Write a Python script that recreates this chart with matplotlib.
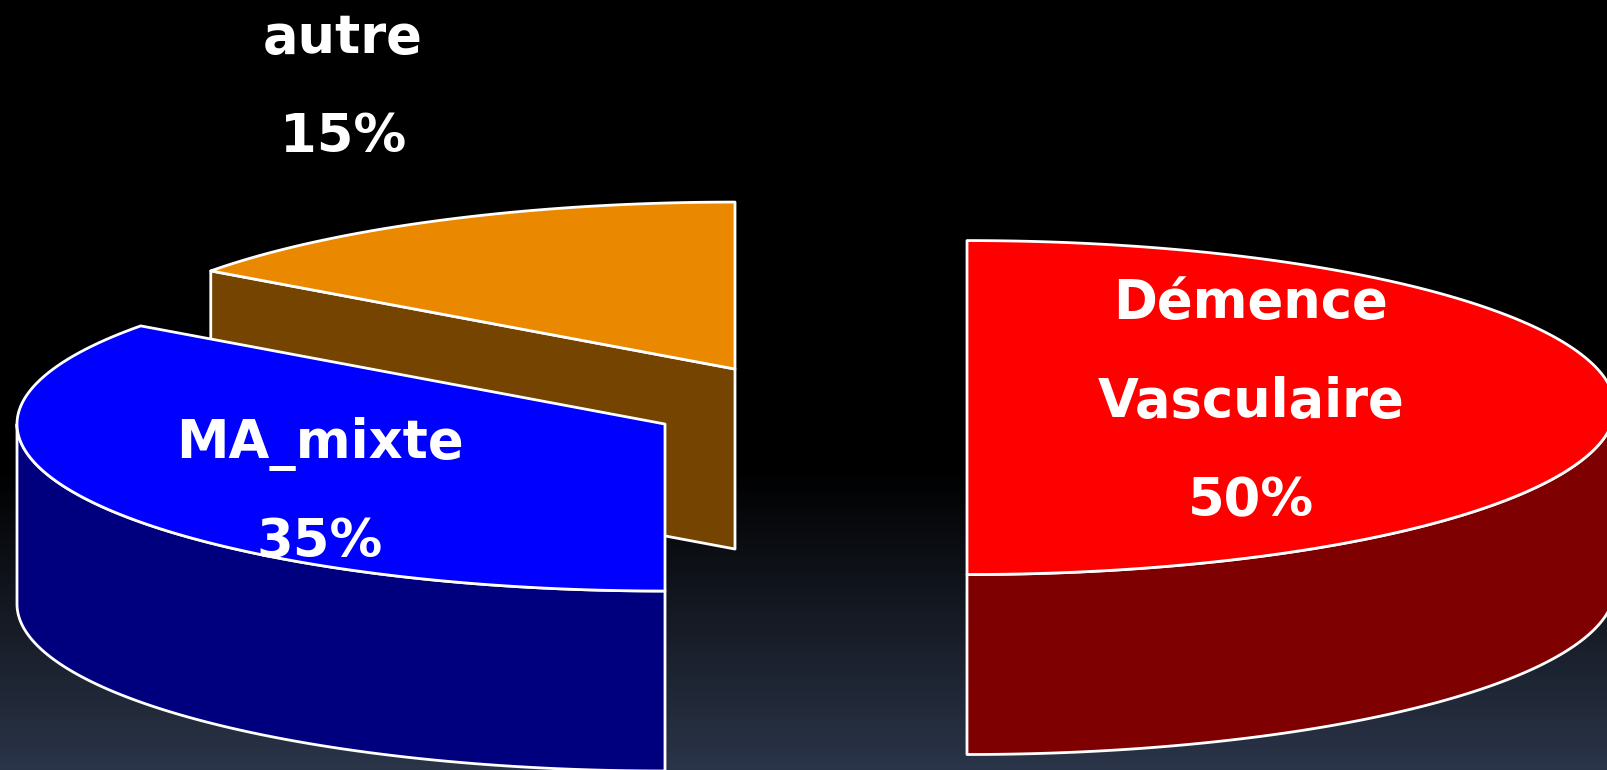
import numpy as np
import matplotlib
matplotlib.use('Agg')
import matplotlib.pyplot as plt
from matplotlib.patches import Polygon

# data (clockwise from 12 o'clock, like the original spreadsheet pie)
categories = ['Démence\nVasculaire', 'MA_mixte', 'autre']
values = [50, 35, 15]

# style
top_colors = ['#ff0000', '#0000ff', '#ea8800']
side_colors = ['#7f0000', '#00007f', '#744400']
W, H = 1608, 771
A, B, DEPTH = 648, 167, 180          # ellipse radii and thickness in px
base = (790, 408)
offsets = [(177, 0.5), (-125, 17), (-55, -38)]   # explode, px
label_pos = [(1251, 318), (320, 458), (343, 53)]  # first baseline of each label
line_step = 99

fig = plt.figure(figsize=(W / 100, H / 100 - 0.001), dpi=100)
ax = fig.add_axes([0, 0, 1, 1])
ax.set_xlim(0, W)
ax.set_ylim(H, 0)
ax.axis('off')

# background: black, fading to dark slate at the bottom
yy = np.arange(H)
t = np.clip((yy - 470) / (H - 470), 0, 1)[:, None]
bottom = np.array([43, 53, 73]) / 255
grad = (t * bottom)[:, None, :].repeat(2, axis=1)
ax.imshow(grad, extent=[0, W, H, 0], aspect='auto', zorder=0)


def pt(cx, cy, th, z=0):
    r = np.radians(th)
    return cx + A * np.cos(r), cy - B * np.sin(r) + z


def arc(cx, cy, t0, t1, z=0, n=200):
    th = np.linspace(t0, t1, n)
    x, y = pt(cx, cy, th, z)
    return np.column_stack([x, y])


def add(poly, fc, zo):
    ax.add_patch(Polygon(poly, closed=True, facecolor=fc, edgecolor='white',
                         linewidth=2, joinstyle='round', zorder=zo))


total = sum(values)
cum = 0
slices = []
for i, v in enumerate(values):
    hi = 90 - cum / total * 360
    lo = hi - v / total * 360
    cum += v
    cx, cy = base[0] + offsets[i][0], base[1] + offsets[i][1]
    slices.append((cy, i, lo, hi, cx))

# back to front
for n, (cy, i, lo, hi, cx) in enumerate(sorted(slices)):
    zo = 2 + 3 * n
    # cut faces
    for th, vis in ((lo, np.cos(np.radians(lo)) > 1e-6), (hi, np.cos(np.radians(hi)) < -1e-6)):
        if vis:
            px, py = pt(cx, cy, th)
            add([(cx, cy), (px, py), (px, py + DEPTH), (cx, cy + DEPTH)], side_colors[i], zo)
    # outer front wall
    for f0, f1 in ((-180, 0), (180, 360)):
        t0, t1 = max(lo, f0), min(hi, f1)
        if t1 > t0:
            topa = arc(cx, cy, t0, t1)
            bota = arc(cx, cy, t0, t1, DEPTH)[::-1]
            add(np.vstack([topa, bota]), side_colors[i], zo + 1)
    # top face
    add(np.vstack([[cx, cy], arc(cx, cy, lo, hi)]), top_colors[i], zo + 2)

# labels
for i, v in enumerate(values):
    lines = categories[i].split('\n') + [f'{v}%']
    x0, y0 = label_pos[i]
    for k, s in enumerate(lines):
        ax.text(x0, y0 + k * line_step, s, color='white', fontsize=38,
                fontweight='bold', family='DejaVu Sans', ha='center',
                va='baseline', zorder=20)

fig.savefig('out.png', dpi=100, facecolor='black')
